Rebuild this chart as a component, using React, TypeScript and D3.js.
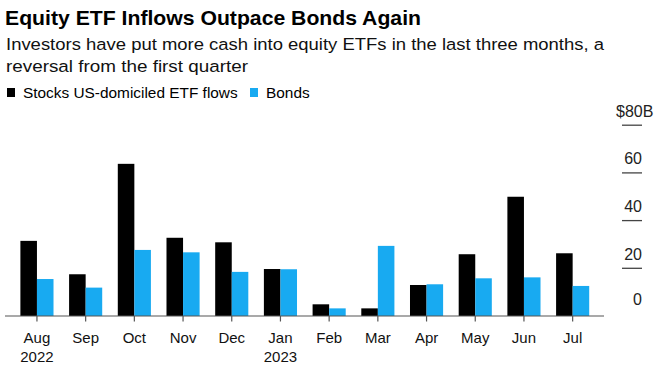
import React from "react";
import * as d3 from "d3";

const months = ["Aug", "Sep", "Oct", "Nov", "Dec", "Jan", "Feb", "Mar", "Apr", "May", "Jun", "Jul"];
const yearLabels = ["2022", "", "", "", "", "2023", "", "", "", "", "", ""];
const stocks = [31.5, 17.5, 63.8, 32.8, 30.9, 19.7, 4.9, 3.2, 13.0, 25.9, 50.0, 26.3];
const bonds = [15.5, 11.9, 27.7, 26.7, 18.5, 19.6, 3.2, 29.4, 13.3, 15.8, 16.2, 12.6];
const yTicks = [0, 20, 40, 60, 80];
const seriesNames = ["Stocks US-domiciled ETF flows", "Bonds"];

const W = 660;
const H = 373;
const BLACK = "#000000";
const BLUE = "#18aaf1";
const FONT = "'Liberation Sans', Arial, sans-serif";

export default function App() {
  const x = d3.scaleBand<string>().domain(months).range([12.6, 597]).paddingInner(0.32).paddingOuter(0.16);
  const y = d3.scaleLinear().domain([0, 80]).range([316, 125.2]);
  const bw = x.bandwidth() / 2;
  const series = [stocks, bonds];
  const colors = [BLACK, BLUE];

  return (
    <svg width={W} height={H} style={{ position: "absolute", left: 0, top: 0, background: "#fff" }} fontFamily={FONT}>
      <text x={5} y={24.5} fontSize={21} fontWeight="bold" fill="#000" textLength={416} lengthAdjust="spacingAndGlyphs">
        Equity ETF Inflows Outpace Bonds Again
      </text>
      <text x={6} y={50} fontSize={16.8} fill="#111" textLength={598} lengthAdjust="spacingAndGlyphs">
        Investors have put more cash into equity ETFs in the last three months, a
      </text>
      <text x={6} y={71.7} fontSize={16.8} fill="#111" textLength={242} lengthAdjust="spacingAndGlyphs">
        reversal from the first quarter
      </text>

      {/* legend */}
      <rect x={7} y={88} width={8} height={9} fill={BLACK} />
      <text x={23} y={97.5} fontSize={15.4} fill="#000">{seriesNames[0]}</text>
      <rect x={250} y={88} width={8} height={9} fill={BLUE} />
      <text x={266} y={97.5} fontSize={15.4} fill="#000">{seriesNames[1]}</text>

      {/* y axis on right */}
      {yTicks.map((t) => (
        <g key={t}>
          {t !== 0 && <line x1={622} x2={642} y1={y(t)} y2={y(t)} stroke="#444" strokeWidth={1.3} />}
          <text
            x={t === 80 ? 616 : 642}
            y={y(t) - (t === 0 ? 11.5 : 8.5)}
            fontSize={16}
            textAnchor={t === 80 ? "start" : "end"}
            fill="#222"
          >
            {t === 80 ? `$${t}B` : t}
          </text>
        </g>
      ))}

      {/* bars */}
      {series.map((vals, si) =>
        vals.map((v, i) => (
          <rect
            key={`${si}-${i}`}
            x={(x(months[i]) as number) + si * bw}
            y={y(v)}
            width={bw}
            height={y(0) - y(v)}
            fill={colors[si]}
          />
        ))
      )}

      {/* baseline */}
      <line x1={5} x2={604} y1={y(0)} y2={y(0)} stroke="#555" strokeWidth={1.2} />
      {months.map((m, i) => {
        const cx = (x(m) as number) + x.bandwidth() / 2;
        return (
          <g key={m}>
            <line x1={cx} x2={cx} y1={y(0)} y2={y(0) + 5.5} stroke="#555" strokeWidth={1.2} />
            <text x={cx} y={343} fontSize={15} textAnchor="middle" fill="#111">{m}</text>
            {yearLabels[i] && (
              <text x={cx} y={361.5} fontSize={15} textAnchor="middle" fill="#111">{yearLabels[i]}</text>
            )}
          </g>
        );
      })}
    </svg>
  );
}
